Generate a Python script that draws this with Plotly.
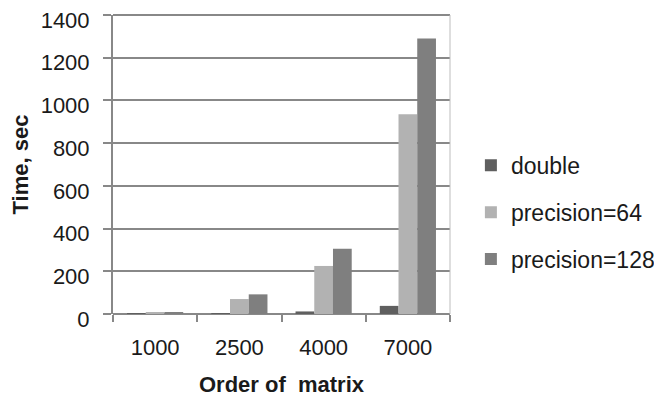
import plotly.graph_objects as go

categories = ["1000", "2500", "4000", "7000"]
double_vals = [0.3, 1, 12, 38]
p64_vals = [8, 70, 225, 935]
p128_vals = [9, 92, 305, 1290]
y_ticks = [0, 200, 400, 600, 800, 1000, 1200, 1400]

fig = go.Figure()
fig.add_trace(go.Bar(x=categories, y=double_vals, name="double", marker=dict(color="#5f5f5f", line=dict(width=0)), legendgroup="a"))
fig.add_trace(go.Bar(x=categories, y=p64_vals, name="precision=64", marker=dict(color="#b2b2b2", line=dict(width=0)), legendgroup="b"))
fig.add_trace(go.Bar(x=categories, y=p128_vals, name="precision=128", marker=dict(color="#7f7f7f", line=dict(width=0)), legendgroup="c"))

fig.update_layout(
    width=654, height=389,
    margin=dict(l=105, r=212, t=7, b=83, autoexpand=False),
    paper_bgcolor="white", plot_bgcolor="white",
    font=dict(family="Liberation Sans, Arial", size=22, color="#1a1a1a"),
    barmode="group", bargap=0.333, bargroupgap=0,
    showlegend=True,
    legend=dict(x=1.062, y=0.34, xanchor="left", yanchor="middle",
                tracegroupgap=14, font=dict(size=23), itemwidth=30,
                bgcolor="rgba(0,0,0,0)"),
    xaxis=dict(
        type="category", tickson="boundaries", ticks="outside", ticklen=7,
        tickwidth=2, tickcolor="#888888", showline=False, showgrid=False,
        tickfont=dict(size=22), ticklabelstandoff=18, automargin=False,
        ticklabeloverflow="allow",
        title=dict(text="<b>Order of  matrix</b>", font=dict(size=22), standoff=20),
    ),
    yaxis=dict(
        range=[0, 1400], tickvals=y_ticks, ticks="outside", ticklen=8,
        tickwidth=2, tickcolor="#888888", showline=True, linecolor="#888888",
        linewidth=2, showgrid=True, gridcolor="#888888", gridwidth=2,
        zeroline=True, zerolinecolor="#888888", zerolinewidth=2,
        tickfont=dict(size=22), ticklabelstandoff=9, ticklabelshift=5,
        automargin=False, ticklabeloverflow="allow",
        title=dict(text="<b>Time, sec</b>", font=dict(size=22), standoff=13),
    ),
)
fig.add_shape(type="line", xref="paper", yref="paper", x0=0, x1=1, y0=1, y1=1,
              line=dict(color="#888888", width=2))
fig.add_shape(type="line", xref="paper", yref="paper", x0=1, x1=1, y0=0, y1=1,
              line=dict(color="#bdbdbd", width=1))
fig.write_html("out.html")
